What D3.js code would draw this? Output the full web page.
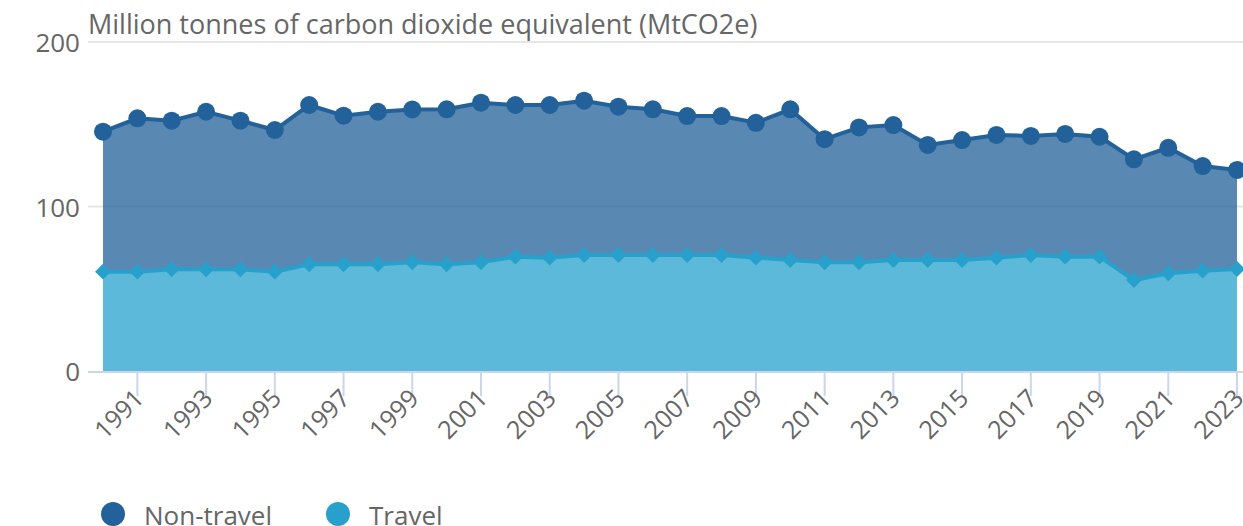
<!DOCTYPE html>
<html>
<head>
<meta charset="utf-8">
<script src="https://cdn.jsdelivr.net/npm/d3@7"></script>
<style>
  body { margin: 0; background: #fff; }
  text { font-family: "Open Sans", sans-serif; fill: #666; }
</style>
</head>
<body>
<svg id="chart" width="1243" height="526"></svg>
<script>
// years shown on the x axis
const years = d3.range(1990, 2024)
// emissions from travel, MtCO2e
const travel = [60.4, 60.4, 61.8, 61.8, 61.8, 60.4, 64.9, 64.9, 64.9, 66.1,
  64.9, 66.1, 69.5, 68.9, 70.5, 70.5, 70.5, 70.5, 70.5, 68.9,
  67.5, 66.1, 66.1, 67.5, 67.5, 67.5, 68.9, 70.5, 69.5, 69.5,
  55.3, 59.4, 61.0, 62.0]
// non-travel emissions, stacked on top of travel
const nonTravel = [85.1, 93.2, 90.4, 95.8, 90.4, 86.1, 96.8, 90.3, 92.7, 92.9,
  94.2, 97.0, 92.2, 92.8, 93.8, 90.2, 88.6, 84.5, 84.5, 82.0,
  91.6, 74.8, 82.0, 82.0, 69.9, 72.9, 74.6, 72.4, 74.6, 72.9,
  73.4, 76.3, 63.6, 60.2]
const seriesNames = ["Non-travel", "Travel"]
const seriesColors = ["#22619a", "#27a1cc"]
const yTicks = [0, 100, 200]
const tickYears = d3.range(1991, 2024, 2)

const rows = years.map((y, i) => ({year: y, "Travel": travel[i], "Non-travel": nonTravel[i]}))

const svg = d3.select("#chart")
const x = d3.scaleLinear().domain([1990, 2023]).range([103, 1237])
const y = d3.scaleLinear().domain([0, 200]).range([371, 42])

// title
svg.append("text")
  .attr("x", 88).attr("y", 34)
  .attr("font-size", 27)
  .text("Million tonnes of carbon dioxide equivalent (MtCO2e)")

// grid
svg.append("g").selectAll("line")
  .data(yTicks.filter(d => d > 0))
  .enter().append("line")
  .attr("x1", 88).attr("x2", 1243)
  .attr("y1", d => y(d)).attr("y2", d => y(d))
  .attr("stroke", "#e6e6e6").attr("stroke-width", 2)

svg.append("g").selectAll("text")
  .data(yTicks)
  .enter().append("text")
  .attr("x", 80).attr("y", d => y(d) + 10)
  .attr("text-anchor", "end")
  .attr("font-size", 26)
  .text(d => d)

// stacked areas
const stack = d3.stack().keys(["Travel", "Non-travel"])
const layers = stack(rows)

const area = d3.area()
  .x(d => x(d.data.year))
  .y0(d => y(d[0]))
  .y1(d => y(d[1]))
const line = d3.line()
  .x(d => x(d.data.year))
  .y(d => y(d[1]))

const colorOf = k => seriesColors[seriesNames.indexOf(k)]

svg.append("g").selectAll("path")
  .data(layers)
  .enter().append("path")
  .attr("d", area)
  .attr("fill", d => colorOf(d.key))
  .attr("fill-opacity", 0.75)

// axis line + ticks
svg.append("line")
  .attr("x1", 88).attr("x2", 1243).attr("y1", 372).attr("y2", 372)
  .attr("stroke", "#ccd6eb").attr("stroke-width", 2)

svg.append("g").selectAll("line")
  .data(tickYears)
  .enter().append("line")
  .attr("x1", d => x(d)).attr("x2", d => x(d))
  .attr("y1", 372).attr("y2", 396)
  .attr("stroke", "#ccd6eb").attr("stroke-width", 2)

svg.append("g").selectAll("text")
  .data(tickYears)
  .enter().append("text")
  .attr("transform", d => `translate(${x(d) + 8},${400}) rotate(-45)`)
  .attr("text-anchor", "end")
  .attr("font-size", 25)
  .text(d => d)

// lines
svg.append("g").selectAll("path")
  .data(layers)
  .enter().append("path")
  .attr("d", line)
  .attr("fill", "none")
  .attr("stroke", d => colorOf(d.key))
  .attr("stroke-width", 4)

// markers: diamonds for travel, circles for non-travel
const travelLayer = layers[0]
const totalLayer = layers[1]

svg.append("g").selectAll("path")
  .data(travelLayer)
  .enter().append("path")
  .attr("d", d3.symbol().type(d3.symbolDiamond2).size(160))
  .attr("transform", d => `translate(${x(d.data.year)},${y(d[1])})`)
  .attr("fill", colorOf("Travel"))

svg.append("g").selectAll("circle")
  .data(totalLayer)
  .enter().append("circle")
  .attr("cx", d => x(d.data.year))
  .attr("cy", d => y(d[1]))
  .attr("r", 9)
  .attr("fill", colorOf("Non-travel"))

// legend
const legend = svg.append("g").selectAll("g")
  .data(seriesNames)
  .enter().append("g")
  .attr("transform", (d, i) => `translate(${i === 0 ? 113 : 338},514)`)

legend.append("circle")
  .attr("r", 12)
  .attr("fill", d => colorOf(d))

legend.append("text")
  .attr("x", 31).attr("y", 11)
  .attr("font-size", 26)
  .text(d => d)
</script>
</body>
</html>
